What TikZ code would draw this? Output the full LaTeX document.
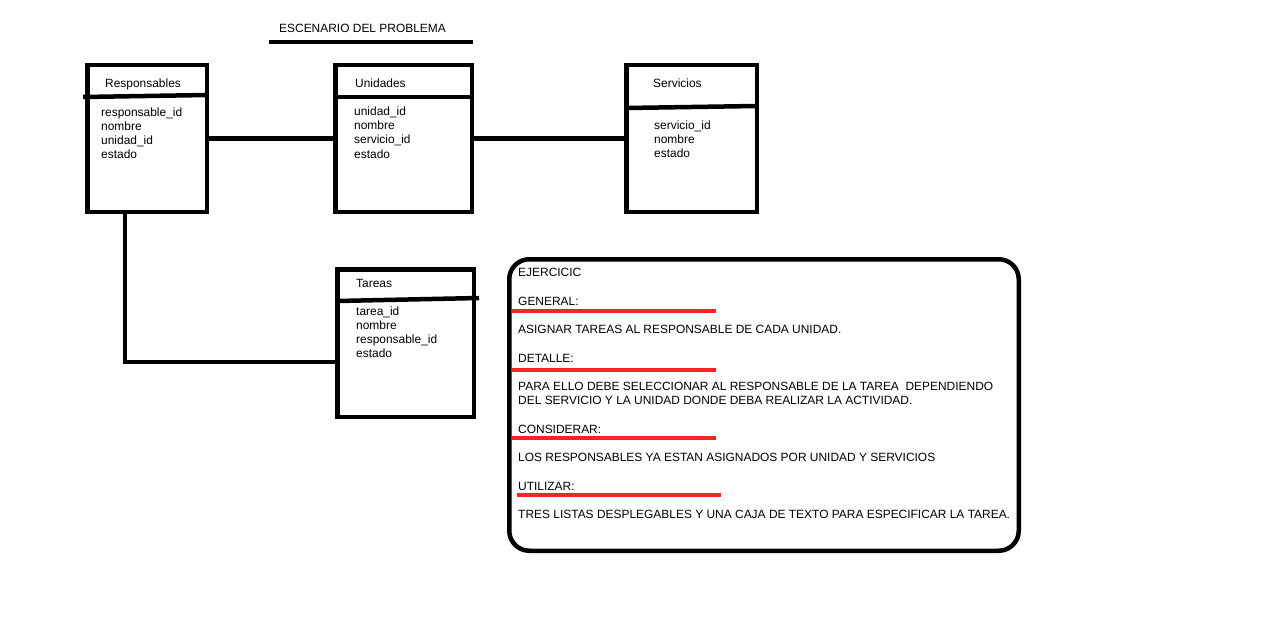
\documentclass[tikz,border=0pt]{standalone}
\usepackage{fontspec}
\setmainfont{Liberation Sans}
\definecolor{underred}{HTML}{FF2222}
\begin{document}
\begin{tikzpicture}[x=1pt, y=-1pt,
  tabla/.style={draw, line width=4.5pt, minimum height=146.5pt},
  divisor/.style={line width=4.5pt},
  conector/.style={line width=4.5pt},
  txt/.style={anchor=base west, inner sep=0pt, align=left, font=\fontsize{11.95}{14.1}\selectfont},
  subrayado/.style={underred, line width=4pt}]
\useasboundingbox (0,0) rectangle (1288,642);

\node[txt] (titulo) at (279,32.3) {ESCENARIO DEL PROBLEMA};
\draw[line width=4pt] (269,42.5) -- (473,42.5);

% tablas (los campos se colocan por la linea base de la ultima fila)
\node[tabla, minimum width=119.5pt] (resp) at (147,138.5){};
\draw[divisor] (83,97) -- (207,95);
\node[txt] (resptit) at (105,88) {Responsables};
\node[txt] (respcampos) at (101,158.5) {responsable\_id\\nombre\\unidad\_id\\estado};

\node[tabla, minimum width=136.5pt] (unid) at (403.5,138.5){};
\draw[divisor] (335,97) -- (472,97);
\node[txt] (unidtit) at (355,88) {Unidades};
\node[txt] (unidcampos) at (354,158) {unidad\_id\\nombre\\servicio\_id\\estado};

\node[tabla, minimum width=130.5pt] (serv) at (691.5,138.5){};
\draw[divisor] (626,108) -- (757,106);
\node[txt] (servtit) at (653,88) {Servicios};
\node[txt] (servcampos) at (654,157.7) {servicio\_id\\nombre\\estado};

\node[tabla, minimum width=136.5pt, minimum height=147.5pt] (tar) at (405.5,343){};
\draw[divisor] (337,301) -- (479,298);
\node[txt] (tartit) at (356,287.3) {Tareas};
\node[txt] (tarcampos) at (356,357.7) {tarea\_id\\nombre\\responsable\_id\\estado};

\draw[conector] (resp) -- (unid);
\draw[conector] (unid) -- (serv);
\draw[conector] ([xshift=-22pt]resp.south) |- ([yshift=-19pt]tar.west);

% enunciado
\node[draw, rounded corners=20pt, line width=4.5pt, minimum width=509.5pt, minimum height=291.5pt] (ejer) at (764,405){};
\node[txt] (e0) at (518,276.5) {EJERCICIC};
\node[txt] (e1) at (518,305.7) {GENERAL:};
\draw[subrayado] (512,311.3) -- (716,311.3);
\node[txt] (e2) at (518,333.3) {ASIGNAR TAREAS AL RESPONSABLE DE CADA UNIDAD.};
\node[txt] (e3) at (518,362.3) {DETALLE:};
\draw[subrayado] (512,370) -- (716,370);
\node[txt] (e4) at (518,404.3) {PARA ELLO DEBE SELECCIONAR AL RESPONSABLE DE LA TAREA\ \ DEPENDIENDO\\DEL SERVICIO Y LA UNIDAD DONDE DEBA REALIZAR LA ACTIVIDAD.};
\node[txt] (e5) at (518,433.3) {CONSIDERAR:};
\draw[subrayado] (512,437.5) -- (716,437.5);
\node[txt] (e6) at (518,461) {LOS RESPONSABLES YA ESTAN ASIGNADOS POR UNIDAD Y SERVICIOS};
\node[txt] (e7) at (518,490) {UTILIZAR:};
\draw[subrayado] (517,495) -- (721,495);
\node[txt] (e8) at (518,518.3) {TRES LISTAS DESPLEGABLES Y UNA CAJA DE TEXTO PARA ESPECIFICAR LA TAREA.};

\end{tikzpicture}
\end{document}
